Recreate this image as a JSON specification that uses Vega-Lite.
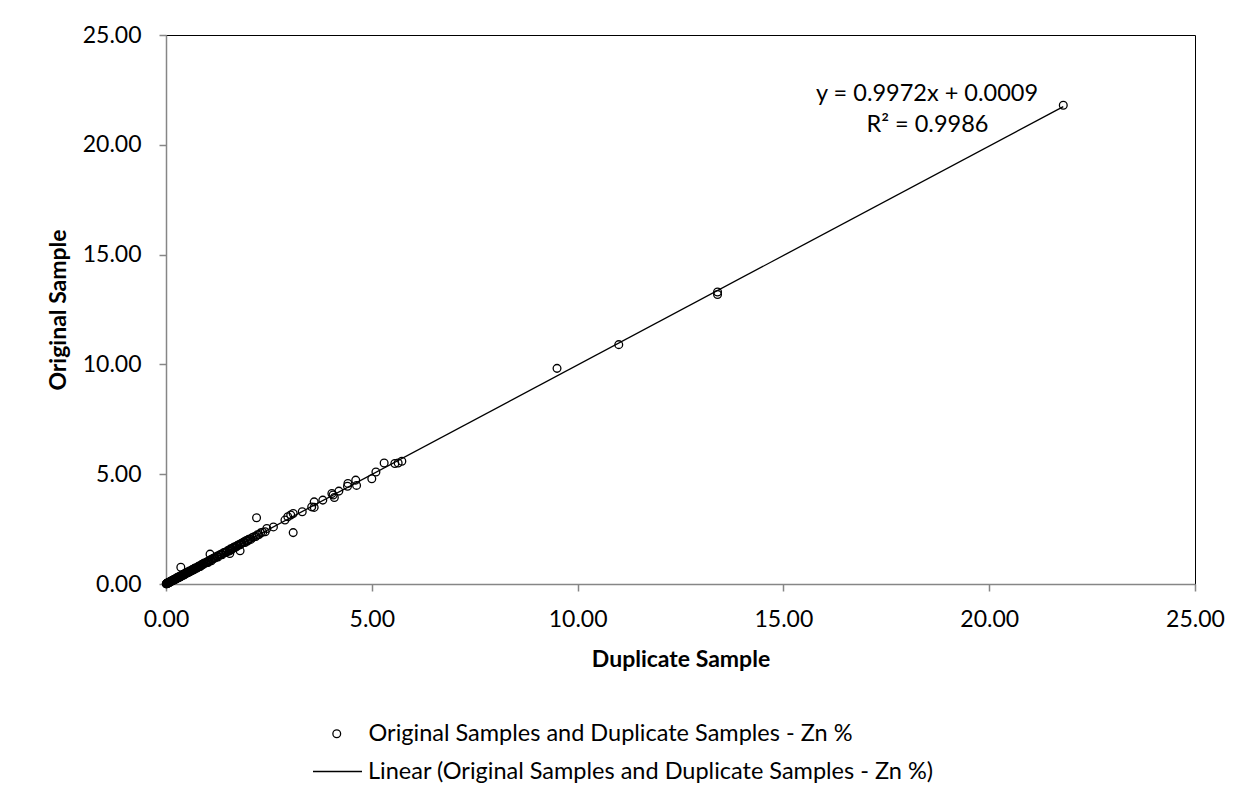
{
  "$schema": "https://vega.github.io/schema/vega-lite/v6.json",
  "width": 1029,
  "height": 549,
  "autosize": {"type": "none"},
  "padding": {"left": 166, "top": 35, "right": 57, "bottom": 228},
  "background": "white",
  "config": {
    "font": "Lato",
    "view": {"stroke": "black", "strokeWidth": 1},
    "axis": {
      "grid": false,
      "labelFlush": false,
      "labelOverlap": false,
      "domainColor": "#868686",
      "domainWidth": 1.5,
      "tickColor": "#868686",
      "tickWidth": 1.5,
      "tickSize": 7,
      "labelFont": "Lato",
      "labelFontSize": 23,
      "labelColor": "black",
      "titleFont": "Lato",
      "titleFontSize": 23,
      "titleFontWeight": "bold",
      "titleColor": "black",
      "format": ".2f"
    },
    "legend": {
      "labelFont": "Lato",
      "labelFontSize": 23.5,
      "labelColor": "black",
      "labelLimit": 1000,
      "padding": 0
    }
  },
  "datasets": {
    "pts": [
      {"dup": 0.005, "orig": 0.008}, {"dup": 0.01, "orig": 0.01}, {"dup": 0.015, "orig": 0.012}, {"dup": 0.02, "orig": 0.02},
      {"dup": 0.025, "orig": 0.03}, {"dup": 0.03, "orig": 0.02}, {"dup": 0.035, "orig": 0.04}, {"dup": 0.04, "orig": 0.05},
      {"dup": 0.045, "orig": 0.04}, {"dup": 0.05, "orig": 0.05}, {"dup": 0.055, "orig": 0.06}, {"dup": 0.06, "orig": 0.07},
      {"dup": 0.065, "orig": 0.07}, {"dup": 0.07, "orig": 0.06}, {"dup": 0.08, "orig": 0.09}, {"dup": 0.09, "orig": 0.08},
      {"dup": 0.1, "orig": 0.1}, {"dup": 0.11, "orig": 0.12}, {"dup": 0.12, "orig": 0.11}, {"dup": 0.13, "orig": 0.13},
      {"dup": 0.14, "orig": 0.15}, {"dup": 0.15, "orig": 0.14}, {"dup": 0.16, "orig": 0.16}, {"dup": 0.17, "orig": 0.18},
      {"dup": 0.18, "orig": 0.17}, {"dup": 0.19, "orig": 0.2}, {"dup": 0.2, "orig": 0.21}, {"dup": 0.21, "orig": 0.19},
      {"dup": 0.22, "orig": 0.22}, {"dup": 0.23, "orig": 0.24}, {"dup": 0.24, "orig": 0.22}, {"dup": 0.25, "orig": 0.25},
      {"dup": 0.26, "orig": 0.28}, {"dup": 0.27, "orig": 0.26}, {"dup": 0.28, "orig": 0.27}, {"dup": 0.29, "orig": 0.3},
      {"dup": 0.3, "orig": 0.31}, {"dup": 0.31, "orig": 0.33}, {"dup": 0.32, "orig": 0.3}, {"dup": 0.33, "orig": 0.32},
      {"dup": 0.34, "orig": 0.35}, {"dup": 0.35, "orig": 0.33}, {"dup": 0.36, "orig": 0.36}, {"dup": 0.37, "orig": 0.39},
      {"dup": 0.38, "orig": 0.37}, {"dup": 0.36, "orig": 0.76}, {"dup": 0.39, "orig": 0.38}, {"dup": 0.4, "orig": 0.42},
      {"dup": 0.41, "orig": 0.41}, {"dup": 0.42, "orig": 0.4}, {"dup": 0.43, "orig": 0.44}, {"dup": 0.44, "orig": 0.45},
      {"dup": 0.45, "orig": 0.43}, {"dup": 0.46, "orig": 0.47}, {"dup": 0.47, "orig": 0.49}, {"dup": 0.48, "orig": 0.46},
      {"dup": 0.49, "orig": 0.5}, {"dup": 0.5, "orig": 0.51}, {"dup": 0.52, "orig": 0.53}, {"dup": 0.53, "orig": 0.51},
      {"dup": 0.55, "orig": 0.54}, {"dup": 0.56, "orig": 0.57}, {"dup": 0.57, "orig": 0.59}, {"dup": 0.58, "orig": 0.56},
      {"dup": 0.6, "orig": 0.6}, {"dup": 0.62, "orig": 0.61}, {"dup": 0.63, "orig": 0.64}, {"dup": 0.65, "orig": 0.67},
      {"dup": 0.66, "orig": 0.63}, {"dup": 0.68, "orig": 0.66}, {"dup": 0.69, "orig": 0.7}, {"dup": 0.7, "orig": 0.71},
      {"dup": 0.72, "orig": 0.74}, {"dup": 0.73, "orig": 0.71}, {"dup": 0.75, "orig": 0.73}, {"dup": 0.77, "orig": 0.76},
      {"dup": 0.78, "orig": 0.79}, {"dup": 0.8, "orig": 0.82}, {"dup": 0.81, "orig": 0.79}, {"dup": 0.83, "orig": 0.8},
      {"dup": 0.85, "orig": 0.84}, {"dup": 0.86, "orig": 0.87}, {"dup": 0.88, "orig": 0.9}, {"dup": 0.9, "orig": 0.88},
      {"dup": 0.91, "orig": 0.93}, {"dup": 0.93, "orig": 0.95}, {"dup": 0.96, "orig": 0.96}, {"dup": 0.98, "orig": 0.97},
      {"dup": 1.0, "orig": 1.01}, {"dup": 1.02, "orig": 0.98}, {"dup": 1.04, "orig": 1.03}, {"dup": 1.05, "orig": 1.07},
      {"dup": 1.07, "orig": 1.36}, {"dup": 1.08, "orig": 1.1}, {"dup": 1.1, "orig": 1.06}, {"dup": 1.12, "orig": 1.13},
      {"dup": 1.13, "orig": 1.15}, {"dup": 1.16, "orig": 1.17}, {"dup": 1.18, "orig": 1.2}, {"dup": 1.2, "orig": 1.19},
      {"dup": 1.23, "orig": 1.25}, {"dup": 1.25, "orig": 1.27}, {"dup": 1.26, "orig": 1.23}, {"dup": 1.3, "orig": 1.32},
      {"dup": 1.33, "orig": 1.34}, {"dup": 1.35, "orig": 1.36}, {"dup": 1.36, "orig": 1.33}, {"dup": 1.4, "orig": 1.42},
      {"dup": 1.43, "orig": 1.45}, {"dup": 1.45, "orig": 1.43}, {"dup": 1.47, "orig": 1.46}, {"dup": 1.5, "orig": 1.52},
      {"dup": 1.54, "orig": 1.5}, {"dup": 1.55, "orig": 1.39}, {"dup": 1.55, "orig": 1.56}, {"dup": 1.57, "orig": 1.6},
      {"dup": 1.6, "orig": 1.58}, {"dup": 1.62, "orig": 1.63}, {"dup": 1.64, "orig": 1.66}, {"dup": 1.67, "orig": 1.7},
      {"dup": 1.7, "orig": 1.68}, {"dup": 1.72, "orig": 1.73}, {"dup": 1.74, "orig": 1.76}, {"dup": 1.78, "orig": 1.8},
      {"dup": 1.8, "orig": 1.51}, {"dup": 1.8, "orig": 1.78}, {"dup": 1.82, "orig": 1.83}, {"dup": 1.84, "orig": 1.86},
      {"dup": 1.88, "orig": 1.9}, {"dup": 1.9, "orig": 1.92}, {"dup": 1.92, "orig": 1.89}, {"dup": 1.95, "orig": 1.98},
      {"dup": 1.98, "orig": 1.96}, {"dup": 2.0, "orig": 2.02}, {"dup": 2.03, "orig": 2.05}, {"dup": 2.06, "orig": 2.03},
      {"dup": 2.1, "orig": 2.12}, {"dup": 2.14, "orig": 2.15}, {"dup": 2.18, "orig": 2.16}, {"dup": 2.2, "orig": 3.02},
      {"dup": 2.22, "orig": 2.24}, {"dup": 2.26, "orig": 2.25}, {"dup": 2.3, "orig": 2.33}, {"dup": 2.35, "orig": 2.36},
      {"dup": 2.41, "orig": 2.38}, {"dup": 2.45, "orig": 2.53}, {"dup": 2.61, "orig": 2.6}, {"dup": 2.89, "orig": 2.91},
      {"dup": 2.96, "orig": 3.06}, {"dup": 3.03, "orig": 3.14}, {"dup": 3.09, "orig": 2.34}, {"dup": 3.09, "orig": 3.21},
      {"dup": 3.31, "orig": 3.29}, {"dup": 3.54, "orig": 3.51}, {"dup": 3.6, "orig": 3.49}, {"dup": 3.6, "orig": 3.74},
      {"dup": 3.81, "orig": 3.82}, {"dup": 4.03, "orig": 4.12}, {"dup": 4.06, "orig": 4.05}, {"dup": 4.09, "orig": 3.94},
      {"dup": 4.2, "orig": 4.23}, {"dup": 4.41, "orig": 4.45}, {"dup": 4.42, "orig": 4.58}, {"dup": 4.61, "orig": 4.73},
      {"dup": 4.63, "orig": 4.49}, {"dup": 5.0, "orig": 4.79}, {"dup": 5.1, "orig": 5.1}, {"dup": 5.3, "orig": 5.51},
      {"dup": 5.56, "orig": 5.49}, {"dup": 5.64, "orig": 5.51}, {"dup": 5.73, "orig": 5.59}, {"dup": 9.5, "orig": 9.82},
      {"dup": 11.0, "orig": 10.9}, {"dup": 13.4, "orig": 13.3}, {"dup": 13.4, "orig": 13.18}, {"dup": 21.8, "orig": 21.8}
    ],
    "trend": [{"dup": 0, "orig": 0.0009}, {"dup": 21.8, "orig": 21.74}],
    "eq": [
      {"dup": 18.49, "orig": 22.32, "t": "y = 0.9972x + 0.0009"},
      {"dup": 18.5, "orig": 20.91, "t": "R² = 0.9986"}
    ]
  },
  "layer": [
    {
      "data": {"name": "trend"},
      "mark": {"type": "line", "strokeWidth": 1.3},
      "encoding": {
        "x": {"field": "dup", "type": "quantitative", "scale": {"domain": [0, 25], "nice": false},
              "axis": {"values": [0, 5, 10, 15, 20, 25], "title": "Duplicate Sample", "labelPadding": 17, "titlePadding": 17}},
        "y": {"field": "orig", "type": "quantitative", "scale": {"domain": [0, 25], "nice": false},
              "axis": {"values": [0, 5, 10, 15, 20, 25], "title": "Original Sample", "labelPadding": 18, "titlePadding": 12}},
        "color": {
          "datum": "Linear (Original Samples and Duplicate Samples - Zn %)",
          "scale": {"range": ["black"]},
          "legend": {"title": null, "orient": "none", "legendX": 146, "legendY": 711, "symbolType": "stroke", "symbolSize": 2401, "symbolStrokeWidth": 1.3, "labelOffset": 5}
        }
      }
    },
    {
      "data": {"name": "pts"},
      "mark": {"type": "point", "filled": false, "color": "black", "size": 60, "strokeWidth": 1.3, "opacity": 1},
      "encoding": {
        "x": {"field": "dup", "type": "quantitative"},
        "y": {"field": "orig", "type": "quantitative"},
        "shape": {
          "datum": "Original Samples and Duplicate Samples - Zn %",
          "scale": {"range": ["circle"]},
          "legend": {"title": null, "orient": "none", "legendX": 159, "legendY": 687, "symbolSize": 60, "symbolStrokeWidth": 1.3, "symbolStrokeColor": "black", "labelOffset": 20}
        }
      }
    },
    {
      "data": {"name": "eq"},
      "mark": {"type": "text", "fontSize": 23.5, "font": "Lato", "align": "center", "baseline": "middle", "color": "black"},
      "encoding": {
        "x": {"field": "dup", "type": "quantitative"},
        "y": {"field": "orig", "type": "quantitative"},
        "text": {"field": "t"}
      }
    }
  ]
}
